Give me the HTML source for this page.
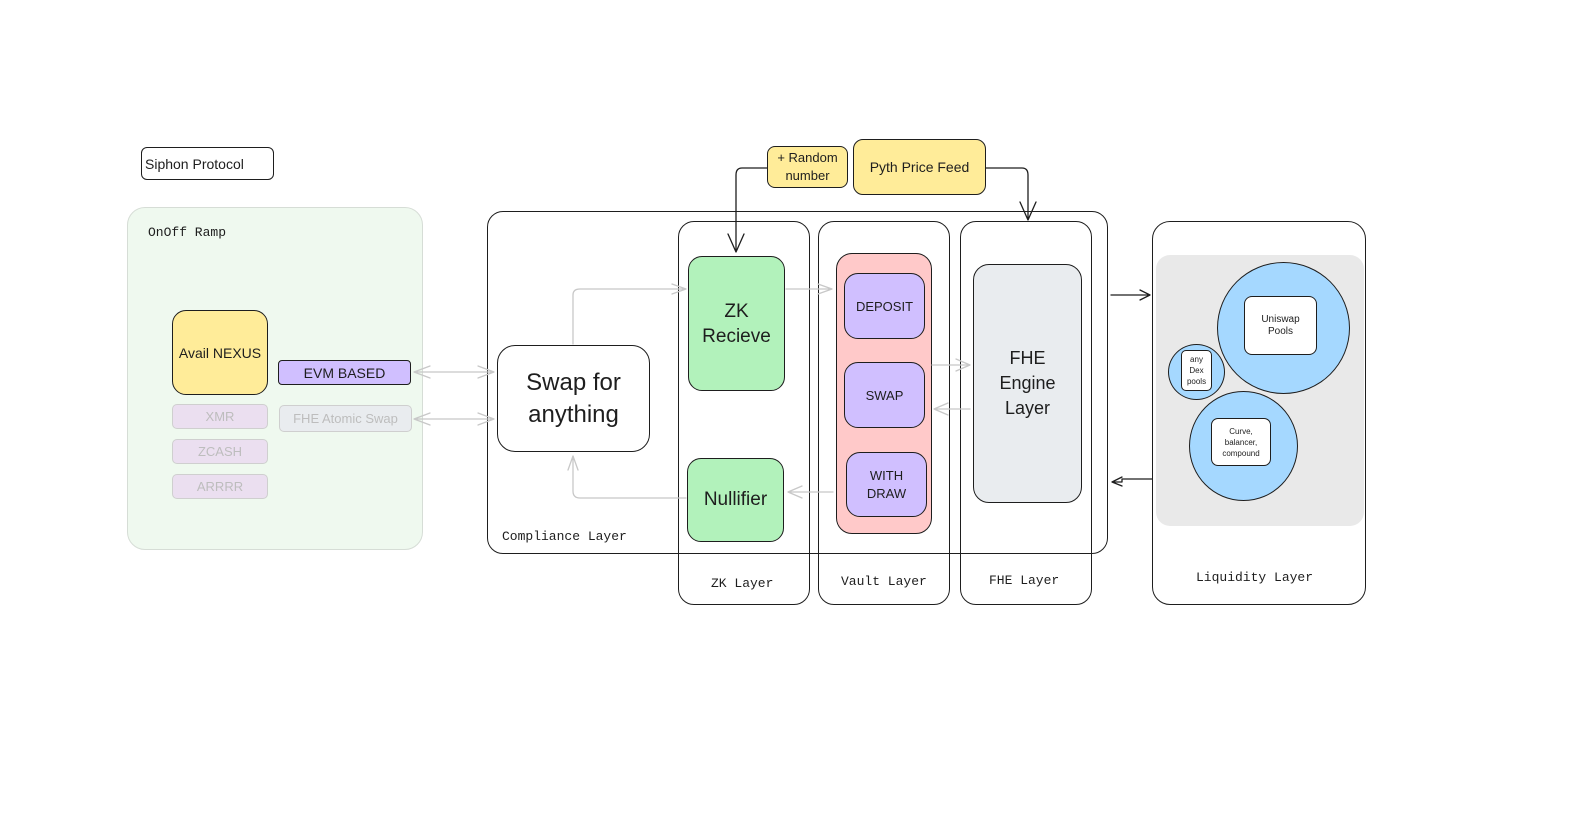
<!DOCTYPE html>
<html><head><meta charset="utf-8"><style>
body{margin:0;width:1596px;height:816px;background:#fff;position:relative;overflow:hidden;font-family:"Liberation Sans",sans-serif;color:#1e1e1e}
.b{position:absolute;box-sizing:border-box;border:1.5px solid #1e1e1e;border-radius:14px;display:flex;align-items:center;justify-content:center;text-align:center}
.t{position:absolute;white-space:nowrap}
.m{font-family:"Liberation Mono",monospace;font-size:13px}
.f{border-color:#cfcfcf;color:#bdbdbd}
</style></head><body>
<div class="b" style="left:141px;top:147px;width:133px;height:33px;border-radius:6px;justify-content:flex-start;padding-left:3px;font-size:14px">Siphon Protocol</div>
<div class="b" style="left:127px;top:207px;width:296px;height:343px;background:#eff9ef;border-color:#d6ddd6;border-radius:18px"></div>
<div class="t m" style="left:148px;top:225px">OnOff Ramp</div>
<div class="b" style="left:172px;top:310px;width:96px;height:85px;background:#ffec99;font-size:14px">Avail NEXUS</div>
<div class="b" style="left:278px;top:360px;width:133px;height:25px;background:#d0bfff;border-radius:4px;font-size:14px">EVM BASED</div>
<div class="b f" style="left:172px;top:404px;width:96px;height:25px;background:#ebdff0;border-radius:5px;font-size:13px">XMR</div>
<div class="b f" style="left:172px;top:439px;width:96px;height:25px;background:#ebdff0;border-radius:5px;font-size:13px">ZCASH</div>
<div class="b f" style="left:172px;top:474px;width:96px;height:25px;background:#ebdff0;border-radius:5px;font-size:13px">ARRRR</div>
<div class="b f" style="left:279px;top:405px;width:133px;height:27px;background:#e9ecef;border-radius:5px;font-size:13px">FHE Atomic Swap</div>

<div class="b" style="left:487px;top:211px;width:621px;height:343px;border-radius:16px"></div>
<div class="t m" style="left:502px;top:529px">Compliance Layer</div>
<div class="b" style="left:678px;top:221px;width:132px;height:384px;border-radius:16px"></div>
<div class="b" style="left:818px;top:221px;width:132px;height:384px;border-radius:16px"></div>
<div class="b" style="left:960px;top:221px;width:132px;height:384px;border-radius:16px"></div>
<div class="b" style="left:1152px;top:221px;width:214px;height:384px;border-radius:18px"></div>
<div class="t m" style="left:711px;top:576px">ZK Layer</div>
<div class="t m" style="left:841px;top:574px">Vault Layer</div>
<div class="t m" style="left:989px;top:573px">FHE Layer</div>
<div class="t m" style="left:1196px;top:570px">Liquidity Layer</div>

<div class="b" style="left:497px;top:345px;width:153px;height:107px;border-radius:18px;font-size:24px;line-height:32px">Swap for<br>anything</div>
<div class="b" style="left:688px;top:256px;width:97px;height:135px;background:#b2f2bb;font-size:19px;line-height:25px">ZK<br>Recieve</div>
<div class="b" style="left:687px;top:458px;width:97px;height:84px;background:#b2f2bb;font-size:19px">Nullifier</div>
<div class="b" style="left:836px;top:253px;width:96px;height:281px;background:#ffc9c9;border-radius:16px"></div>
<div class="b" style="left:844px;top:273px;width:81px;height:66px;background:#d0bfff;font-size:13px">DEPOSIT</div>
<div class="b" style="left:844px;top:362px;width:81px;height:66px;background:#d0bfff;font-size:13px">SWAP</div>
<div class="b" style="left:846px;top:452px;width:81px;height:65px;background:#d0bfff;font-size:13px;line-height:18px">WITH<br>DRAW</div>
<div class="b" style="left:973px;top:264px;width:109px;height:239px;background:#e9ecef;border-radius:16px;font-size:18px;line-height:25px">FHE<br>Engine<br>Layer</div>

<div class="b" style="left:1156px;top:255px;width:208px;height:271px;background:#e9e9e9;border:none;border-radius:14px"></div>
<div class="b" style="left:1217px;top:262px;width:133px;height:132px;border-radius:50%;background:#a5d8ff"></div>
<div class="b" style="left:1244px;top:296px;width:73px;height:59px;background:#fff;border-radius:8px;font-size:10px;line-height:12px">Uniswap<br>Pools</div>
<div class="b" style="left:1168px;top:344px;width:57px;height:56px;border-radius:50%;background:#a5d8ff"></div>
<div class="b" style="left:1181px;top:350px;width:31px;height:41px;background:#fff;border-radius:5px;font-size:8px;line-height:11px">any<br>Dex<br>pools</div>
<div class="b" style="left:1189px;top:391px;width:109px;height:110px;border-radius:50%;background:#a5d8ff"></div>
<div class="b" style="left:1211px;top:418px;width:60px;height:48px;background:#fff;border-radius:7px;font-size:8px;line-height:11px">Curve,<br>balancer,<br>compound</div>

<div class="b" style="left:767px;top:146px;width:81px;height:42px;background:#ffec99;border-radius:8px;font-size:13px;line-height:18px">+ Random<br>number</div>
<div class="b" style="left:853px;top:139px;width:133px;height:56px;background:#ffec99;border-radius:10px;font-size:14px">Pyth Price Feed</div>

<svg width="1596" height="816" style="position:absolute;left:0;top:0" fill="none" stroke-linecap="round" stroke-linejoin="round">
<g stroke="#1e1e1e" stroke-width="1.3">
<path d="M767 168 H742 Q736 168 736 175 V252 M728 234 L736 252 L744 234"/>
<path d="M986 168 H1022 Q1028 168 1028 175 V220 M1020 202 L1028 220 L1036 202"/>
<path d="M1111 295 H1150 M1140 290 L1150 295 L1140 300"/>
<path d="M1152 479 H1122 V482 H1112 M1122 477 L1112 482 L1122 486"/>
</g>
<g stroke="#c8c8c8" stroke-width="1.3">
<path d="M414 372 H494 M430 366 L414 372 L430 378 M478 366 L494 372 L478 378"/>
<path d="M414 419 H494 M430 413 L414 419 L430 425 M478 413 L494 419 L478 425"/>
<path d="M573 344 V295 Q573 289 580 289 H686 M672 284 L686 289 L672 294"/>
<path d="M786 289 H832 M818 284 L832 289 L818 294"/>
<path d="M932 365 H970 M956 359 L970 365 L956 371"/>
<path d="M970 409 H934 M948 403 L934 409 L948 415"/>
<path d="M833 492 H788 M802 486 L788 492 L802 498"/>
<path d="M686 498 H580 Q573 498 573 491 V456 M568 470 L573 456 L578 470"/>
</g>
</svg>
</body></html>
